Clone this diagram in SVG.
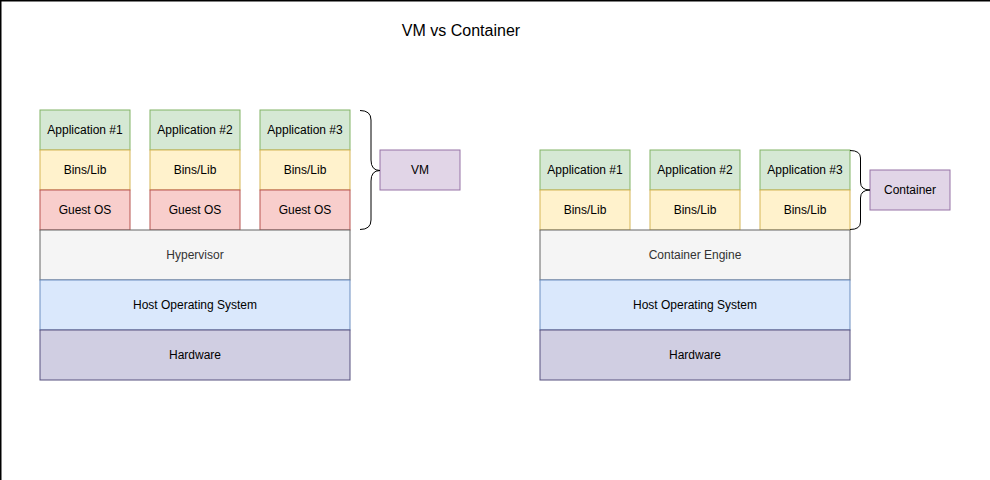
<svg xmlns="http://www.w3.org/2000/svg" width="990" height="480" viewBox="0 0 990 480">
<style>
text{font-family:"Liberation Sans",Arial,sans-serif;font-size:12px;fill:#000;text-anchor:middle;dominant-baseline:central}
.app{fill:#d5e8d4;stroke:#82b366}
.bin{fill:#fff2cc;stroke:#d6b656}
.os{fill:#f8cecc;stroke:#b85450}
.hyp{fill:#f5f5f5;stroke:#666666}
.host{fill:#dae8fc;stroke:#6c8ebf}
.hw{fill:#d0cee2;stroke:#56517e}
.lbl{fill:#e1d5e7;stroke:#9673a6}
.brace{fill:none;stroke:#000;stroke-width:1}
</style>
<rect width="990" height="480" fill="#fff"/>
<path d="M0,0.75 H990 M0.75,0 V480" stroke="#000" stroke-width="1.5" fill="none"/>
<text x="461" y="30" style="font-size:16px">VM vs Container</text>

<g id="vm-app1"><rect class="app" x="40" y="110" width="90" height="40"/><text x="85" y="130">Application #1</text></g>
<g id="vm-app2"><rect class="app" x="150" y="110" width="90" height="40"/><text x="195" y="130">Application #2</text></g>
<g id="vm-app3"><rect class="app" x="260" y="110" width="90" height="40"/><text x="305" y="130">Application #3</text></g>
<g id="vm-bin1"><rect class="bin" x="40" y="150" width="90" height="40"/><text x="85" y="170">Bins/Lib</text></g>
<g id="vm-bin2"><rect class="bin" x="150" y="150" width="90" height="40"/><text x="195" y="170">Bins/Lib</text></g>
<g id="vm-bin3"><rect class="bin" x="260" y="150" width="90" height="40"/><text x="305" y="170">Bins/Lib</text></g>
<g id="vm-os1"><rect class="os" x="40" y="190" width="90" height="40"/><text x="85" y="210">Guest OS</text></g>
<g id="vm-os2"><rect class="os" x="150" y="190" width="90" height="40"/><text x="195" y="210">Guest OS</text></g>
<g id="vm-os3"><rect class="os" x="260" y="190" width="90" height="40"/><text x="305" y="210">Guest OS</text></g>
<g id="vm-hypervisor"><rect class="hyp" x="40" y="230" width="310" height="50"/><text x="195" y="255" style="fill:#333333">Hypervisor</text></g>
<g id="vm-host"><rect class="host" x="40" y="280" width="310" height="50"/><text x="195" y="305">Host Operating System</text></g>
<g id="vm-hw"><rect class="hw" x="40" y="330" width="310" height="50"/><text x="195" y="355">Hardware</text></g>
<g id="vm-label"><rect class="lbl" x="380" y="150" width="80" height="40"/><text x="420" y="170">VM</text></g>

<g id="c-app1"><rect class="app" x="540" y="150" width="90" height="40"/><text x="585" y="170">Application #1</text></g>
<g id="c-app2"><rect class="app" x="650" y="150" width="90" height="40"/><text x="695" y="170">Application #2</text></g>
<g id="c-app3"><rect class="app" x="760" y="150" width="90" height="40"/><text x="805" y="170">Application #3</text></g>
<g id="c-bin1"><rect class="bin" x="540" y="190" width="90" height="40"/><text x="585" y="210">Bins/Lib</text></g>
<g id="c-bin2"><rect class="bin" x="650" y="190" width="90" height="40"/><text x="695" y="210">Bins/Lib</text></g>
<g id="c-bin3"><rect class="bin" x="760" y="190" width="90" height="40"/><text x="805" y="210">Bins/Lib</text></g>
<g id="c-engine"><rect class="hyp" x="540" y="230" width="310" height="50"/><text x="695" y="255" style="fill:#333333">Container Engine</text></g>
<g id="c-host"><rect class="host" x="540" y="280" width="310" height="50"/><text x="695" y="305">Host Operating System</text></g>
<g id="c-hw"><rect class="hw" x="540" y="330" width="310" height="50"/><text x="695" y="355">Hardware</text></g>
<g id="c-label"><rect class="lbl" x="870" y="170" width="80" height="40"/><text x="910" y="190">Container</text></g>

<g id="connectors">
<path class="brace" d="M360,110.5 Q371,110.5 371,120 L371,160 Q371,170.5 380,170.5 Q371,170.5 371,181 L371,220 Q371,229.5 360,229.5"/>
<path class="brace" d="M850,150.5 Q860.5,150.5 860.5,158 L860.5,182 Q860.5,190 870,190 Q860.5,190 860.5,198 L860.5,222 Q860.5,229.5 850,229.5"/>
</g>
</svg>
